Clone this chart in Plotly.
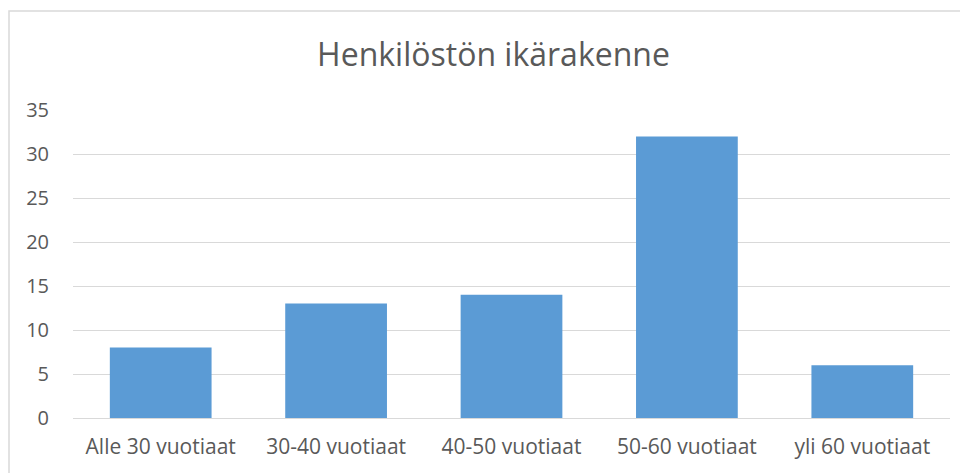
import plotly.graph_objects as go

categories = ["Alle 30 vuotiaat", "30-40 vuotiaat", "40-50 vuotiaat", "50-60 vuotiaat", "yli 60 vuotiaat"]
values = [8, 13, 14, 32, 6]
y_ticks = [0, 5, 10, 15, 20, 25, 30, 35]

# page body has an 8px margin, so the figure is drawn 8px in from the window edge
W, H = 960, 465
L, R, T, B = 65, 18, 102, 55
pw = W - L - R
ph = H - T - B

font_family = "'Open Sans', Lato, sans-serif"
text_color = "#595959"

fig = go.Figure(go.Bar(x=categories, y=values, marker=dict(color="#5B9BD5", line=dict(width=0))))

fig.update_layout(
    width=W, height=H,
    margin=dict(l=L, r=R, t=T, b=B),
    paper_bgcolor="white", plot_bgcolor="white",
    bargap=0.42,
    showlegend=False,
    title=dict(text="Henkilöstön ikärakenne", x=485.5 / W, xanchor="center", xref="container",
               y=(H - 47) / H, yanchor="middle", yref="container",
               font=dict(family=font_family, size=32, color=text_color)),
    font=dict(family=font_family, size=21, color=text_color),
    shapes=[dict(type="rect", xref="paper", yref="paper",
                 x0=(1 - L) / pw, x1=1 + (R + 20) / pw,
                 y0=-(B + 20) / ph, y1=1 + (T - 3) / ph,
                 line=dict(color="#D9D9D9", width=1.5), fillcolor="rgba(0,0,0,0)", layer="below")],
)
fig.update_yaxes(range=[0, 35], tickvals=y_ticks, showgrid=True, gridcolor="#D9D9D9", gridwidth=1.3,
                 zeroline=False, showline=False, ticks="", ticklabelstandoff=23,
                 tickfont=dict(size=20, color=text_color))
fig.update_xaxes(showgrid=False, showline=True, linecolor="#D9D9D9", linewidth=1.3, ticks="",
                 ticklabelstandoff=10, tickfont=dict(size=21, color=text_color))

fig.write_html("out.html")
